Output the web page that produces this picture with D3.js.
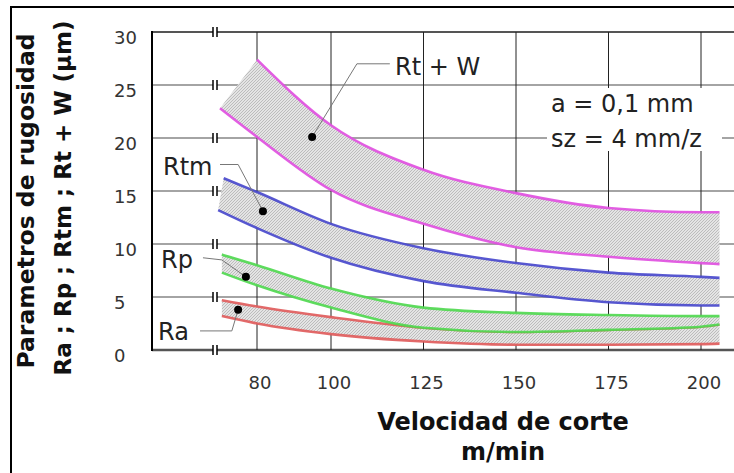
<!DOCTYPE html>
<html>
<head>
<meta charset="utf-8">
<script src="https://cdn.jsdelivr.net/npm/d3@7"></script>
<style>
  body { margin: 0; background: #fff; }
  svg { display: block; }
  text { font-family: "DejaVu Sans", sans-serif; }
</style>
</head>
<body>
<div id="chart"></div>
<script>
// ---- data (cutting speed m/min -> roughness um) ----
var xTicks = [80, 100, 125, 150, 175, 200];
var yTicks = [0, 5, 10, 15, 20, 25, 30];

var rtwUpperV = [80, 100, 125, 150, 175, 200, 205];
var rtwUpper  = [27.4, 21.2, 17.0, 14.8, 13.4, 13.0, 13.0];
var rtwLowerV = [70, 80, 100, 125, 150, 175, 200, 205];
var rtwLower  = [22.8, 20.1, 15.1, 11.9, 9.7, 8.8, 8.2, 8.1];

var rtmUpperV = [71, 80, 100, 125, 150, 175, 200, 205];
var rtmUpper  = [16.2, 14.9, 11.9, 9.6, 8.2, 7.3, 6.9, 6.8];
var rtmLowerV = [69.5, 80, 100, 125, 150, 175, 200, 205];
var rtmLower  = [13.2, 11.5, 8.7, 6.5, 5.4, 4.5, 4.2, 4.2];

var smallV  = [70.5, 80, 100, 125, 150, 175, 200, 205];
var rpUpper = [9.0, 8.0, 5.8, 4.0, 3.5, 3.3, 3.2, 3.2];
var rpLower = [7.3, 6.1, 4.0, 2.1, 1.7, 1.9, 2.2, 2.4];
var raUpper = [4.7, 4.1, 3.1, 2.1, 1.7, 1.9, 2.2, 2.4];
var raLower = [3.2, 2.5, 1.5, 0.8, 0.5, 0.5, 0.55, 0.6];

// marker dots and leader lines, in data units [speed, value]
var bandNames = ["Rt + W", "Rtm", "Rp", "Ra"];
var dots = [[94.9, 20.1], [81.6, 13.1], [77.0, 6.9], [74.9, 3.8]];
var leaders = [
  [[94.9, 20.1], [107.0, 27.0], [115.9, 27.0]],
  [[70.0, 17.5], [74.9, 17.5], [81.6, 13.1]],
  [[65.4, 8.7], [70.5, 8.5], [77.0, 6.9]],
  [[64.6, 1.8], [73.2, 1.8], [74.9, 3.8]]
];

// ---- layout ----
var W = 734, H = 473;
var axisX = 152, plotTop = 32, plotBottom = 350, plotRight = 734;

var svg = d3.select("#chart").append("svg")
  .attr("width", W).attr("height", H);

var x = d3.scaleLinear().domain([80, 200]).range([257, 701]);
var y = d3.scaleLinear().domain([0, 30]).range([plotBottom, plotTop]);

// stipple pattern for the bands
var defs = svg.append("defs");
var pat = defs.append("pattern")
  .attr("id", "hatch").attr("patternUnits", "userSpaceOnUse")
  .attr("width", 3).attr("height", 3);
pat.append("rect").attr("width", 3).attr("height", 3).attr("fill", "#e4e4e4");
pat.append("path").attr("d", "M0,3 L3,0").attr("stroke", "#b2b2b2").attr("stroke-width", 0.8);

// outer frame
svg.append("rect")
  .attr("x", 11).attr("y", 7).attr("width", 740).attr("height", 480)
  .attr("fill", "none").attr("stroke", "#000").attr("stroke-width", 2);

// horizontal grid
svg.append("g").selectAll("line")
  .data(yTicks).enter().append("line")
  .attr("x1", axisX).attr("x2", plotRight)
  .attr("y1", function (d) { return y(d); })
  .attr("y2", function (d) { return y(d); })
  .attr("stroke", function (d) { return d === 0 || d === 30 ? "#555" : "#a4a4a4"; })
  .attr("stroke-width", function (d) { return d === 0 ? 2.5 : 2; });

// vertical grid
svg.append("g").selectAll("line")
  .data(xTicks).enter().append("line")
  .attr("x1", function (d) { return x(d); })
  .attr("x2", function (d) { return x(d); })
  .attr("y1", plotTop).attr("y2", plotBottom)
  .attr("stroke", "#222").attr("stroke-width", 1);

// left axis line
svg.append("line")
  .attr("x1", axisX).attr("x2", axisX)
  .attr("y1", plotTop - 1).attr("y2", plotBottom + 1)
  .attr("stroke", "#000").attr("stroke-width", 2);

// axis break marks "||"
var brk = svg.append("g").selectAll("g")
  .data(yTicks).enter().append("g")
  .attr("transform", function (d) { return "translate(215," + y(d) + ")"; });
brk.append("rect").attr("x", -2).attr("y", -3).attr("width", 4).attr("height", 6).attr("fill", "#fff");
brk.append("line").attr("x1", -2).attr("x2", -2).attr("y1", -5).attr("y2", 5)
  .attr("stroke", "#000").attr("stroke-width", 1.5);
brk.append("line").attr("x1", 2).attr("x2", 2).attr("y1", -5).attr("y2", 5)
  .attr("stroke", "#000").attr("stroke-width", 1.5);

// ---- bands ----
function pts(vs, vals) {
  return vs.map(function (v, i) { return [v, vals[i]]; });
}
var line = d3.line()
  .x(function (d) { return x(d[0]); })
  .y(function (d) { return y(d[1]); })
  .curve(d3.curveMonotoneX);

var bands = [
  { up: pts(smallV, raUpper), lo: pts(smallV, raLower), color: "#e05a5a" },
  { up: pts(smallV, rpUpper), lo: pts(smallV, rpLower), color: "#4ed84e" },
  { up: pts(rtmUpperV, rtmUpper), lo: pts(rtmLowerV, rtmLower), color: "#4646cc" },
  { up: pts(rtwUpperV, rtwUpper), lo: pts(rtwLowerV, rtwLower), color: "#e04ee0" }
];

var bandG = svg.append("g");
bands.forEach(function (b) {
  var d = line(b.up) + line(b.lo.slice().reverse()).replace(/^M/, "L") + "Z";
  bandG.append("path").attr("d", d).attr("fill", "url(#hatch)").attr("stroke", "none");
  [b.up, b.lo].forEach(function (p) {
    bandG.append("path").attr("d", line(p))
      .attr("fill", "none").attr("stroke", b.color)
      .attr("stroke-width", 2.6).attr("stroke-opacity", 0.9);
  });
});

// ---- annotations ----
// white box behind the conditions text
svg.append("rect").attr("x", 547).attr("y", 88).attr("width", 175).attr("height", 63).attr("fill", "#fff");

svg.append("g").selectAll("path")
  .data(leaders).enter().append("path")
  .attr("d", d3.line().x(function (d) { return x(d[0]); }).y(function (d) { return y(d[1]); }))
  .attr("fill", "none").attr("stroke", "#777").attr("stroke-width", 1);

svg.append("g").selectAll("circle")
  .data(dots).enter().append("circle")
  .attr("cx", function (d) { return x(d[0]); })
  .attr("cy", function (d) { return y(d[1]); })
  .attr("r", 4).attr("fill", "#000");

var labelPos = [[395, 75], [163, 175], [161, 268], [158, 340]];
svg.append("g").selectAll("text")
  .data(bandNames).enter().append("text")
  .attr("x", function (d, i) { return labelPos[i][0]; })
  .attr("y", function (d, i) { return labelPos[i][1]; })
  .attr("font-size", 24).attr("fill", "#222")
  .text(function (d) { return d; });

var notes = ["a = 0,1 mm", "sz = 4 mm/z"];
svg.append("g").selectAll("text")
  .data(notes).enter().append("text")
  .attr("x", 551).attr("y", function (d, i) { return 112 + i * 35; })
  .attr("font-size", 24).attr("fill", "#222")
  .text(function (d) { return d; });

// ---- tick labels ----
svg.append("g").selectAll("text")
  .data(yTicks).enter().append("text")
  .attr("x", 114).attr("y", function (d) { return y(d) + 6; })
  .attr("dy", "0.35em").attr("font-size", 18).attr("fill", "#333")
  .text(function (d) { return d; });

svg.append("g").selectAll("text")
  .data(xTicks).enter().append("text")
  .attr("x", function (d) { return x(d) + 3; }).attr("y", 389)
  .attr("text-anchor", "middle").attr("font-size", 18).attr("fill", "#333")
  .text(function (d) { return d; });

// ---- axis titles ----
svg.append("text")
  .attr("x", 503).attr("y", 430).attr("text-anchor", "middle")
  .attr("font-size", 24).attr("font-weight", "bold").attr("fill", "#111")
  .text("Velocidad de corte");
svg.append("text")
  .attr("x", 503).attr("y", 460).attr("text-anchor", "middle")
  .attr("font-size", 24).attr("font-weight", "bold").attr("fill", "#111")
  .text("m/min");

svg.append("text")
  .attr("transform", "translate(34,201) rotate(-90)").attr("text-anchor", "middle")
  .attr("font-size", 23.5).attr("font-weight", "bold").attr("fill", "#111")
  .text("Parametros de rugosidad");
svg.append("text")
  .attr("transform", "translate(71,198) rotate(-90)").attr("text-anchor", "middle")
  .attr("font-size", 23).attr("font-weight", "bold").attr("fill", "#111")
  .text("Ra ; Rp ; Rtm ; Rt + W (\u03bcm)");
</script>
</body>
</html>
